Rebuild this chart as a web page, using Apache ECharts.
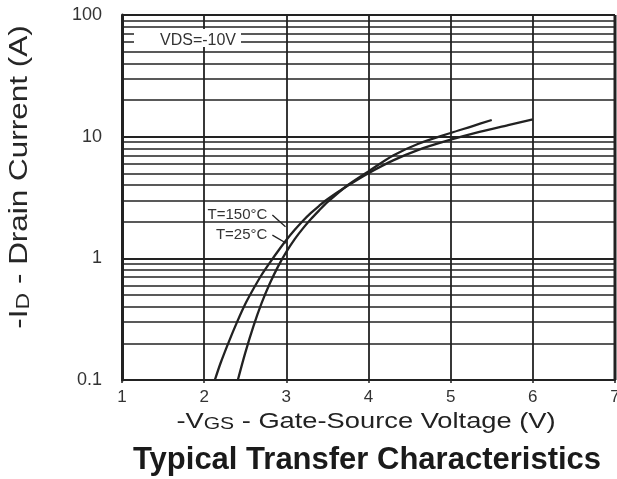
<!DOCTYPE html>
<html><head><meta charset="utf-8">
<script src="https://cdn.jsdelivr.net/npm/echarts@6/dist/echarts.min.js"></script>
<style>html,body{margin:0;padding:0;background:#fff;overflow:hidden}#c{width:617px;height:479px}</style>
</head><body><div id="c"></div>
<script>
// ---- data ----
const xTicks = [1, 2, 3, 4, 5, 6, 7];
const yTickLabels = { 0.1: '0.1', 1: '1', 10: '10', 100: '100' };
const minorGridValues = [0.2,0.3,0.4,0.5,0.6,0.7,0.8,0.9, 2,3,4,5,6,7,8,9, 20,30,40,50,60,70,80,90];
const t25 = [[2.41,0.100],[2.50,0.167],[2.60,0.277],[2.70,0.430],[2.80,0.624],[2.90,0.859],[3.00,1.130],[3.10,1.432],[3.20,1.754],[3.30,2.101],[3.40,2.477],[3.50,2.897],[3.75,4.009],[4.00,5.188],[4.30,6.998],[4.60,8.710],[5.00,10.72],[5.25,12.11],[5.50,13.71]];
const t150 = [[2.13,0.100],[2.20,0.138],[2.30,0.206],[2.40,0.299],[2.50,0.421],[2.60,0.562],[2.70,0.733],[2.80,0.923],[2.90,1.148],[3.00,1.413],[3.10,1.706],[3.20,2.028],[3.30,2.360],[3.40,2.704],[3.50,3.062],[3.75,3.963],[4.00,5.012],[4.30,6.383],[4.60,7.762],[5.00,9.441],[5.35,10.96],[5.70,12.45],[6.00,13.90]];
const leader150 = [[2.83,2.27],[2.99,1.82]];
const leader25 = [[2.83,1.55],[3.00,1.33]];
const label150 = 'T=150°C';
const label25 = 'T=25°C';
const vdsLabel = 'VDS=-10V';
const xName = '-V{s|GS} - Gate-Source Voltage (V)';
const yName = '-I{s|D} - Drain Current (A)';
const titleText = 'Typical Transfer Characteristics';

const ink = '#222';
const chart = echarts.init(document.getElementById('c'));
const curveStyle = { color: ink, width: 2.3 };
function leaderSeries(data, text) {
  return {
    type: 'line', data: data, symbol: 'none', silent: true,
    lineStyle: { color: ink, width: 1.3 },
    markPoint: {
      symbol: 'circle', symbolSize: 0, silent: true,
      data: [{ coord: data[0], label: { show: true, formatter: text, position: 'left', distance: 5, color: '#333', fontSize: 15, fontFamily: 'Liberation Sans' } }]
    }
  };
}
chart.setOption({
  animation: false,
  grid: { left: 122, right: 2, top: 15, bottom: 99, outerBoundsMode: 'none', containLabel: false },
  xAxis: {
    type: 'value', min: 1, max: 7, interval: 1,
    axisLine: { show: true, onZero: false, lineStyle: { color: ink, width: 2 } },
    axisTick: { show: true, length: 3, lineStyle: { color: ink, width: 1.5 } },
    splitLine: { show: true, lineStyle: { color: ink, width: 1.8 } },
    axisLabel: { color: '#333', fontSize: 17, fontFamily: 'Liberation Sans', margin: 9 }
  },
  yAxis: {
    type: 'log', logBase: 10, min: 0.1, max: 100,
    axisLine: { show: true, lineStyle: { color: ink, width: 3 } },
    axisTick: { show: false },
    splitLine: { show: true, lineStyle: { color: ink, width: 1.8 } },
    axisLabel: { color: '#333', fontSize: 18, fontFamily: 'Liberation Sans', margin: 20,
      formatter: v => yTickLabels[+v.toPrecision(3)] ?? '' }
  },
  graphic: [
    { type: 'line', shape: { x1: 615, y1: 15, x2: 615, y2: 380 }, style: { stroke: ink, lineWidth: 3 }, z: 10 },
    { type: 'line', shape: { x1: 122, y1: 15, x2: 615, y2: 15 }, style: { stroke: ink, lineWidth: 2 }, z: 10 },
    { type: 'rect', shape: { x: 134, y: 29, width: 107, height: 18 }, style: { fill: '#fff' }, z: 15 },
    { type: 'text', x: 198, y: 41, z: 20,
      style: { text: vdsLabel, fill: '#333', font: '16px "Liberation Sans"', align: 'center', verticalAlign: 'middle' } },
    { type: 'text', x: 20, y: 177, rotation: Math.PI / 2, scaleX: 1.21, z: 20,
      style: { text: yName, fill: '#262626', font: '26px "Liberation Sans"', align: 'center', verticalAlign: 'middle',
        rich: { s: { fontSize: 19, fill: '#262626', fontFamily: 'Liberation Sans', verticalAlign: 'bottom' } } } },
    { type: 'text', x: 366, y: 422, scaleX: 1.24, z: 20,
      style: { text: xName, fill: ink, font: '22px "Liberation Sans"', align: 'center', verticalAlign: 'middle',
        rich: { s: { fontSize: 17, fill: ink, fontFamily: 'Liberation Sans', verticalAlign: 'bottom' } } } },
    { type: 'text', x: 367, y: 460, z: 20,
      style: { text: titleText, fill: '#1a1a1a', font: 'bold 31px "Liberation Sans"', align: 'center', verticalAlign: 'middle' } }
  ],
  series: [
    { type: 'line', name: 'T=25°C', data: t25, symbol: 'none', smooth: 0.3, lineStyle: curveStyle, silent: true,
      markLine: { silent: true, symbol: 'none', label: { show: false }, lineStyle: { color: ink, width: 1.6, type: 'solid' },
        data: minorGridValues.map(v => ({ yAxis: v })) } },
    { type: 'line', name: 'T=150°C', data: t150, symbol: 'none', smooth: 0.3, lineStyle: curveStyle, silent: true },
    leaderSeries(leader150, label150),
    leaderSeries(leader25, label25)
  ]
});
</script></body></html>
